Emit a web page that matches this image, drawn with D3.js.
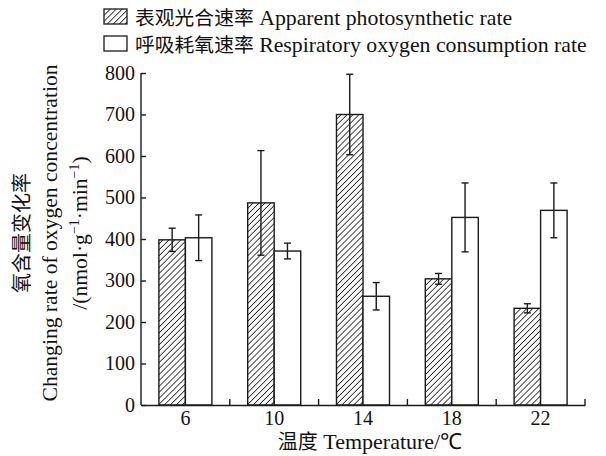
<!DOCTYPE html>
<html>
<head>
<meta charset="utf-8">
<script src="https://cdn.jsdelivr.net/npm/d3@7/dist/d3.min.js"></script>
<style>
  body { margin: 0; background: #fff; }
  svg text { fill: #111; }
  .serif { font-family: "Liberation Serif", "Times New Roman", serif; }
  .cjk { font-family: "Noto Sans CJK SC", sans-serif; }
</style>
</head>
<body>
<svg id="chart" width="606" height="456"></svg>
<script>
// temperatures (°C)
const temps = ['6', '10', '14', '18', '22'];
const seriesKeys = ['photo', 'resp'];
const seriesNames = {
  photo: ['表观光合速率', 'Apparent photosynthetic rate'],
  resp:  ['呼吸耗氧速率', 'Respiratory oxygen consumption rate']
};
// means and errors, nmol·g-1·min-1
const photoMean = [398, 487, 700, 304, 233];
const photoErr  = [28, 126, 97, 13, 11];
const respMean  = [403, 371, 262, 452, 469];
const respErr   = [55, 19, 33, 83, 66];
const yTicks = [0, 100, 200, 300, 400, 500, 600, 700, 800];

const INK = '#1a1a1a';
const svg = d3.select('#chart');
const M = { l: 141, r: 585, t: 73, b: 405 };

const defs = svg.append('defs');
const HS = 4.2;
const pat = defs.append('pattern').attr('id', 'hatch')
  .attr('patternUnits', 'userSpaceOnUse')
  .attr('width', HS).attr('height', HS)
  .attr('patternTransform', 'rotate(45)');
pat.append('rect').attr('width', HS).attr('height', HS).attr('fill', '#fff');
pat.append('line').attr('x1', 0).attr('y1', 0).attr('x2', 0).attr('y2', HS)
  .attr('stroke', INK).attr('stroke-width', 1.6);

const fillOf = k => k === 'photo' ? 'url(#hatch)' : '#fff';

const x0 = d3.scaleBand().domain(temps).range([M.l, M.r]).padding(0);
const x1 = d3.scaleBand().domain(seriesKeys).range([0, x0.bandwidth()])
  .paddingInner(0).paddingOuter(0.675);
const y = d3.scaleLinear().domain([0, 800]).range([M.b, M.t]);

const rows = temps.map((t, i) => ({
  t,
  vals: [
    { k: 'photo', v: photoMean[i], e: photoErr[i] },
    { k: 'resp',  v: respMean[i],  e: respErr[i] }
  ]
}));

// bars
const g = svg.append('g');
const grp = g.selectAll('g.grp').data(rows).enter().append('g')
  .attr('transform', d => `translate(${x0(d.t)},0)`);
grp.selectAll('rect').data(d => d.vals).enter().append('rect')
  .attr('x', d => x1(d.k)).attr('width', x1.bandwidth())
  .attr('y', d => y(d.v)).attr('height', d => y(0) - y(d.v))
  .attr('fill', d => fillOf(d.k)).attr('stroke', INK).attr('stroke-width', 1.4);

// error bars
const cap = 3.5;
const cx = d => x1(d.k) + x1.bandwidth() / 2;
const eb = grp.selectAll('g.eb').data(d => d.vals).enter().append('g')
  .attr('stroke', INK).attr('stroke-width', 1.4);
eb.append('line')
  .attr('x1', cx).attr('x2', cx)
  .attr('y1', d => y(d.v + d.e)).attr('y2', d => y(d.v - d.e));
eb.append('line')
  .attr('x1', d => cx(d) - cap).attr('x2', d => cx(d) + cap)
  .attr('y1', d => y(d.v + d.e)).attr('y2', d => y(d.v + d.e));
eb.append('line')
  .attr('x1', d => cx(d) - cap).attr('x2', d => cx(d) + cap)
  .attr('y1', d => y(d.v - d.e)).attr('y2', d => y(d.v - d.e));

// y axis
const yAxis = svg.append('g').attr('class', 'serif')
  .attr('transform', `translate(${M.l},0)`)
  .call(d3.axisLeft(y).tickValues(yTicks).tickSizeInner(-5).tickSizeOuter(0).tickPadding(6));
yAxis.selectAll('text').attr('font-size', 20).attr('fill', INK);

// x axis: labels at centres, ticks at group boundaries
const xAxis = svg.append('g').attr('class', 'serif')
  .attr('transform', `translate(0,${M.b})`)
  .call(d3.axisBottom(x0).tickSize(0).tickSizeOuter(0).tickPadding(6));
xAxis.selectAll('text').attr('font-size', 20).attr('fill', INK);
xAxis.selectAll('.tick').append('line')
  .attr('x1', x0.bandwidth() / 2).attr('x2', x0.bandwidth() / 2)
  .attr('y1', 0).attr('y2', -6).attr('stroke', INK);
[yAxis, xAxis].forEach(a => a.selectAll('path, line').attr('stroke', INK).attr('stroke-width', 1.4));
yAxis.select('.domain').attr('d', `M0,${M.b}V${M.t}`);

// x title
const xt = svg.append('text').attr('x', 370).attr('y', 449)
  .attr('text-anchor', 'middle').attr('font-size', 22);
xt.append('tspan').attr('class', 'cjk').attr('font-size', 20).text('温度');
xt.append('tspan').attr('class', 'serif').text(' Temperature/℃');

// y title
const yc = 233;
const yt = svg.append('g');
yt.append('text').attr('class', 'cjk').attr('font-size', 20)
  .attr('transform', `translate(29,${yc}) rotate(-90)`).attr('text-anchor', 'middle')
  .text('氧含量变化率');
yt.append('text').attr('class', 'serif').attr('font-size', 21.6)
  .attr('transform', `translate(57,${yc}) rotate(-90)`).attr('text-anchor', 'middle')
  .text('Changing rate of oxygen concentration');
const unit = yt.append('text').attr('class', 'serif').attr('font-size', 21.6)
  .attr('transform', `translate(87,${yc}) rotate(-90)`).attr('text-anchor', 'middle');
unit.append('tspan').text('/(nmol·g');
unit.append('tspan').attr('font-size', 14).attr('dy', -8).text('−1');
unit.append('tspan').attr('dy', 8).text('·min');
unit.append('tspan').attr('font-size', 14).attr('dy', -8).text('−1');
unit.append('tspan').attr('dy', 8).text(')');

// legend
const leg = svg.append('g');
seriesKeys.forEach((k, i) => {
  const ly = 9 + i * 27;
  leg.append('rect').attr('x', 104).attr('y', ly).attr('width', 23).attr('height', 15)
    .attr('fill', fillOf(k)).attr('stroke', INK).attr('stroke-width', 1.3);
  const t = leg.append('text').attr('x', 135).attr('y', ly + 15.5).attr('font-size', 21.8);
  t.append('tspan').attr('class', 'cjk').attr('font-size', 19.8).text(seriesNames[k][0]);
  t.append('tspan').attr('class', 'serif').text(' ' + seriesNames[k][1]);
});
</script>
</body>
</html>
